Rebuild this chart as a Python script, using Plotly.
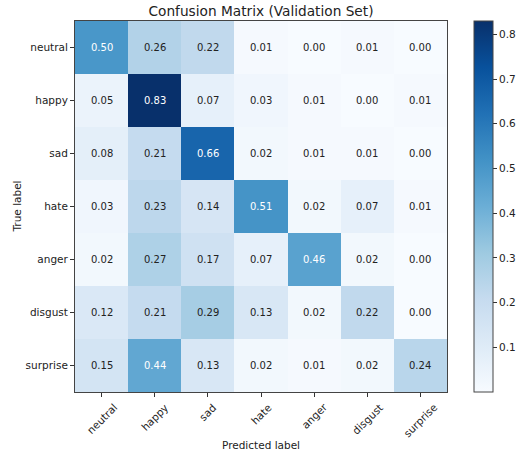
import plotly.graph_objects as go
import plotly.colors as pc

labels = ["neutral", "happy", "sad", "hate", "anger", "disgust", "surprise"]
cm = [
    [0.50, 0.26, 0.22, 0.01, 0.00, 0.01, 0.00],
    [0.05, 0.83, 0.07, 0.03, 0.01, 0.00, 0.01],
    [0.08, 0.21, 0.66, 0.02, 0.01, 0.01, 0.00],
    [0.03, 0.23, 0.14, 0.51, 0.02, 0.07, 0.01],
    [0.02, 0.27, 0.17, 0.07, 0.46, 0.02, 0.00],
    [0.12, 0.21, 0.29, 0.13, 0.02, 0.22, 0.00],
    [0.15, 0.44, 0.13, 0.02, 0.01, 0.02, 0.24],
]
cb_ticks = [0.1, 0.2, 0.3, 0.4, 0.5, 0.6, 0.7, 0.8]

FONT = "DejaVu Sans"
TXT = "#222222"
zmax = max(max(r) for r in cm)
zmin = min(min(r) for r in cm)
thresh = zmax / 2

fig = go.Figure(go.Heatmap(
    z=cm, x=labels, y=labels,
    colorscale=pc.sequential.Blues,
    zmin=zmin, zmax=zmax,
    xgap=0, ygap=0,
    hoverinfo="skip",
    colorbar=dict(
        x=(474 - 75) / 372, xanchor="left", xref="paper", xpad=0, ypad=0,
        y=0.5, yanchor="middle", len=1.0, lenmode="fraction",
        thickness=19, outlinewidth=1, outlinecolor="#444444",
        tickvals=cb_ticks, ticktext=[f"{t:.1f}" for t in cb_ticks],
        ticks="outside", ticklen=4, tickcolor="#333333",
        tickfont=dict(family=FONT, size=10.5, color=TXT),
    ),
))

annotations = []
for i, row in enumerate(cm):
    for j, v in enumerate(row):
        annotations.append(dict(
            x=labels[j], y=labels[i], text=f"{v:.2f}", showarrow=False,
            font=dict(family=FONT, size=10, color="white" if v > thresh else TXT),
        ))

# rotated x tick labels, centred on the tick (matplotlib style)
for lab in labels:
    annotations.append(dict(
        x=lab, xref="x", y=0, yref="paper", text=lab, showarrow=False,
        textangle=-45, xanchor="center", yanchor="top", yshift=-6,
        font=dict(family=FONT, size=10.5, color=TXT),
    ))

# axis titles
annotations.append(dict(
    x=0.5, xref="paper", y=0, yref="paper", text="Predicted label", showarrow=False,
    xanchor="center", yanchor="top", yshift=-45,
    font=dict(family=FONT, size=10.5, color=TXT),
))
annotations.append(dict(
    x=(16 - 75) / 372, xref="paper", y=0.5, yref="paper", text="True label", showarrow=False,
    xanchor="center", yanchor="middle", textangle=-90,
    font=dict(family=FONT, size=10.5, color=TXT),
))

fig.update_layout(
    width=517, height=452,
    margin=dict(l=75, r=70, t=21, b=60, autoexpand=False),
    paper_bgcolor="white", plot_bgcolor="white",
    annotations=annotations,
    title=dict(text="Confusion Matrix (Validation Set)", x=(75 + 186) / 517, xanchor="center",
               y=1 - 11 / 452, yanchor="middle", yref="container",
               font=dict(family=FONT, size=13.7, color=TXT)),
    xaxis=dict(
        ticks="outside", ticklen=4, tickcolor="#333333", showticklabels=False,
        showline=True, linecolor="#444444", linewidth=1, mirror=True,
        showgrid=False, zeroline=False, automargin=False,
    ),
    yaxis=dict(
        autorange="reversed", ticks="outside", ticklen=4, tickcolor="#333333",
        tickfont=dict(family=FONT, size=10.5, color=TXT),
        showline=True, linecolor="#444444", linewidth=1, mirror=True,
        showgrid=False, zeroline=False, automargin=False,
    ),
)

fig.write_html("out.html", config={"displayModeBar": False},
               post_script="document.body.style.margin='0';document.body.style.overflow='hidden';")
